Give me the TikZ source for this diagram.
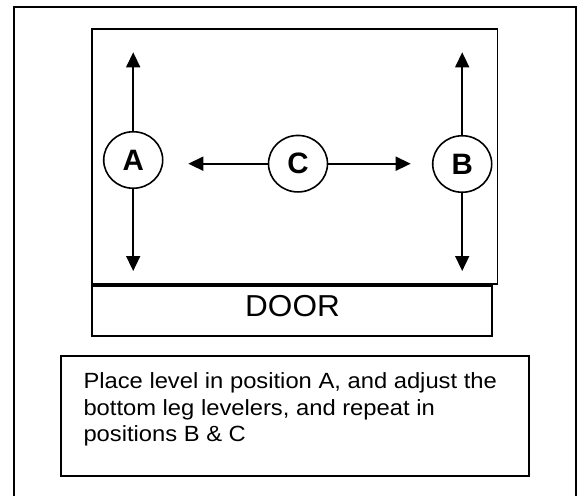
\documentclass[tikz,border=0pt]{standalone}
\usepackage{fontspec}
\setmainfont{Liberation Sans}
\usetikzlibrary{arrows.meta,shapes.geometric}
\begin{document}
\begin{tikzpicture}[x=1pt,y=-1pt,
  frame/.style={draw, line width=1.8pt},
  arr/.style={-{Triangle[length=15pt,width=14pt]}, line width=1.6pt},
  circ/.style={ellipse, draw, line width=1.6pt, minimum width=59pt, minimum height=56.5pt, inner sep=0pt, font=\bfseries\fontsize{29.5}{30}\selectfont},
  plain/.style={draw, line width=1.8pt, inner sep=0pt}]
\useasboundingbox (0,0) rectangle (577,495);
% outer frame (bottom edge lies outside the picture)
\draw[frame] (14,505) -- (14,7) -- (575.6,7) -- (575.6,505);
% cabinet
\node[plain, minimum width=405.8pt, minimum height=255pt] (cab) at (294.6,156.8) {};
% door
\node[plain, minimum width=400.6pt, minimum height=50.3pt] (door) at (292,310.9) {};
\node[anchor=base, inner sep=0pt, font=\fontsize{30.3}{32}\selectfont] (doorlbl) at (292.5,316.7) {\scalebox{1.04}[1]{DOOR}};
% positions
\node[circ] (A) at (133.2,160) {A};
\node[circ] (C) at (298,163.7) {C};
\node[circ] (B) at (462.2,164) {B};
\coordinate (Aup) at (133.2,52.3);
\coordinate (Adn) at (133.2,271);
\coordinate (Bup) at (462.2,52.3);
\coordinate (Bdn) at (462.2,271);
\coordinate (Clf) at (188.3,163.7);
\coordinate (Crt) at (410.7,163.7);
\draw[arr] (A.north) -- (Aup);
\draw[arr] (A.south) -- (Adn);
\draw[arr] (B.north) -- (Bup);
\draw[arr] (B.south) -- (Bdn);
\draw[arr] (C.west) -- (Clf);
\draw[arr] (C.east) -- (Crt);
% instruction box
\node[plain, minimum width=468.3pt, minimum height=120.3pt] (note) at (295.2,415.9) {};
\node[anchor=base west, inner sep=0pt, font=\fontsize{22}{26.6}\selectfont] (notetext) at (83.3,388.5)
  {\scalebox{1.08}[1]{\vtop{\baselineskip=26.6pt\hbox{Place level in position A, and adjust the}\hbox{bottom leg levelers, and repeat in}\hbox{positions B \& C}}}};
\end{tikzpicture}
\end{document}
